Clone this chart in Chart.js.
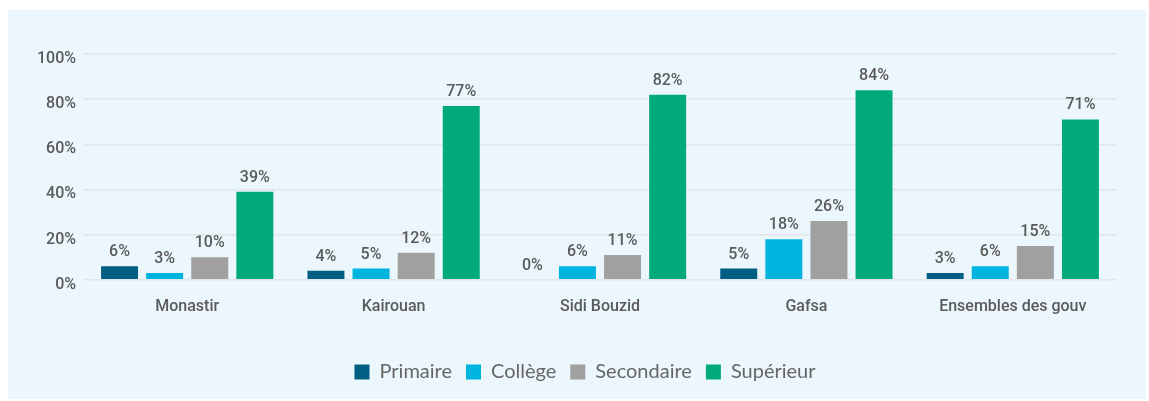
<!DOCTYPE html>
<html>
<head>
<meta charset="utf-8">
<script src="https://cdn.jsdelivr.net/npm/chart.js@4/dist/chart.umd.min.js"></script>
<style>
  html, body { margin: 0; padding: 0; background: #ffffff; }
  #wrap { position: absolute; left: 8px; top: 10px; width: 1138px; height: 389px; background: #EBF7FC; }
  canvas { display: block; }
</style>
</head>
<body>
<div id="wrap"><canvas id="c" width="1138" height="389"></canvas></div>
<script>
const categories = ["Monastir", "Kairouan", "Sidi Bouzid", "Gafsa", "Ensembles des gouv"];
const seriesNames = ["Primaire", "Collège", "Secondaire", "Supérieur"];
const primaire   = [6, 4, 0, 5, 3];
const college    = [3, 5, 6, 18, 6];
const secondaire = [10, 12, 11, 26, 15];
const superieur  = [39, 77, 82, 84, 71];
const yTicks = [0, 20, 40, 60, 80, 100];
const colors = ["#005E82", "#00B4E0", "#A0A0A0", "#00AA7C"];

const textColor = "#5A5A5A";

const valueLabels = {
  id: "valueLabels",
  afterDatasetsDraw(chart) {
    const ctx = chart.ctx;
    ctx.save();
    ctx.font = "500 16px Roboto";
    ctx.fillStyle = textColor;
    ctx.textAlign = "center";
    ctx.textBaseline = "alphabetic";
    chart.data.datasets.forEach((ds, i) => {
      const meta = chart.getDatasetMeta(i);
      meta.data.forEach((el, j) => {
        ctx.fillText(ds.data[j] + "%", el.x, el.y - 10);
      });
    });
    ctx.restore();
  }
};

const legendShift = {
  id: "legendShift",
  afterLayout(chart) {
    if (chart.legend) {
      chart.legend.left += 23;
      chart.legend.right += 23;
    }
  }
};

new Chart(document.getElementById("c"), {
  type: "bar",
  data: {
    labels: categories,
    datasets: [primaire, college, secondaire, superieur].map((d, i) => ({
      label: seriesNames[i],
      data: d,
      backgroundColor: colors[i],
      borderWidth: 0,
      barPercentage: 0.82,
      categoryPercentage: 0.874
    }))
  },
  options: {
    responsive: false,
    animation: false,
    layout: { padding: { left: 0, right: 30, top: 44, bottom: 7 } },
    plugins: {
      legend: {
        position: "bottom",
        labels: {
          boxWidth: 15,
          boxHeight: 15,
          padding: 14,
          color: "#666666",
          font: { family: "Lato", size: 20, weight: "400" }
        }
      },
      tooltip: { enabled: false }
    },
    scales: {
      x: {
        grid: { display: false, drawTicks: false },
        border: { display: false },
        afterFit(axis) { axis.height += 13; },
        ticks: {
          color: textColor,
          padding: 18,
          font: { family: "Roboto", size: 16, weight: "500" }
        }
      },
      y: {
        min: 0,
        max: 100,
        afterBuildTicks(axis) { axis.ticks = yTicks.map(v => ({ value: v })); },
        afterFit(axis) { axis.width = 76; },
        grid: { color: "#E2E6E8", lineWidth: 1.5, drawTicks: false },
        border: { display: false },
        ticks: {
          color: textColor,
          padding: 8,
          labelOffset: 5,
          font: { family: "Roboto", size: 16, weight: "500" },
          callback: v => v + "%"
        }
      }
    }
  },
  plugins: [valueLabels, legendShift]
});
</script>
</body>
</html>
